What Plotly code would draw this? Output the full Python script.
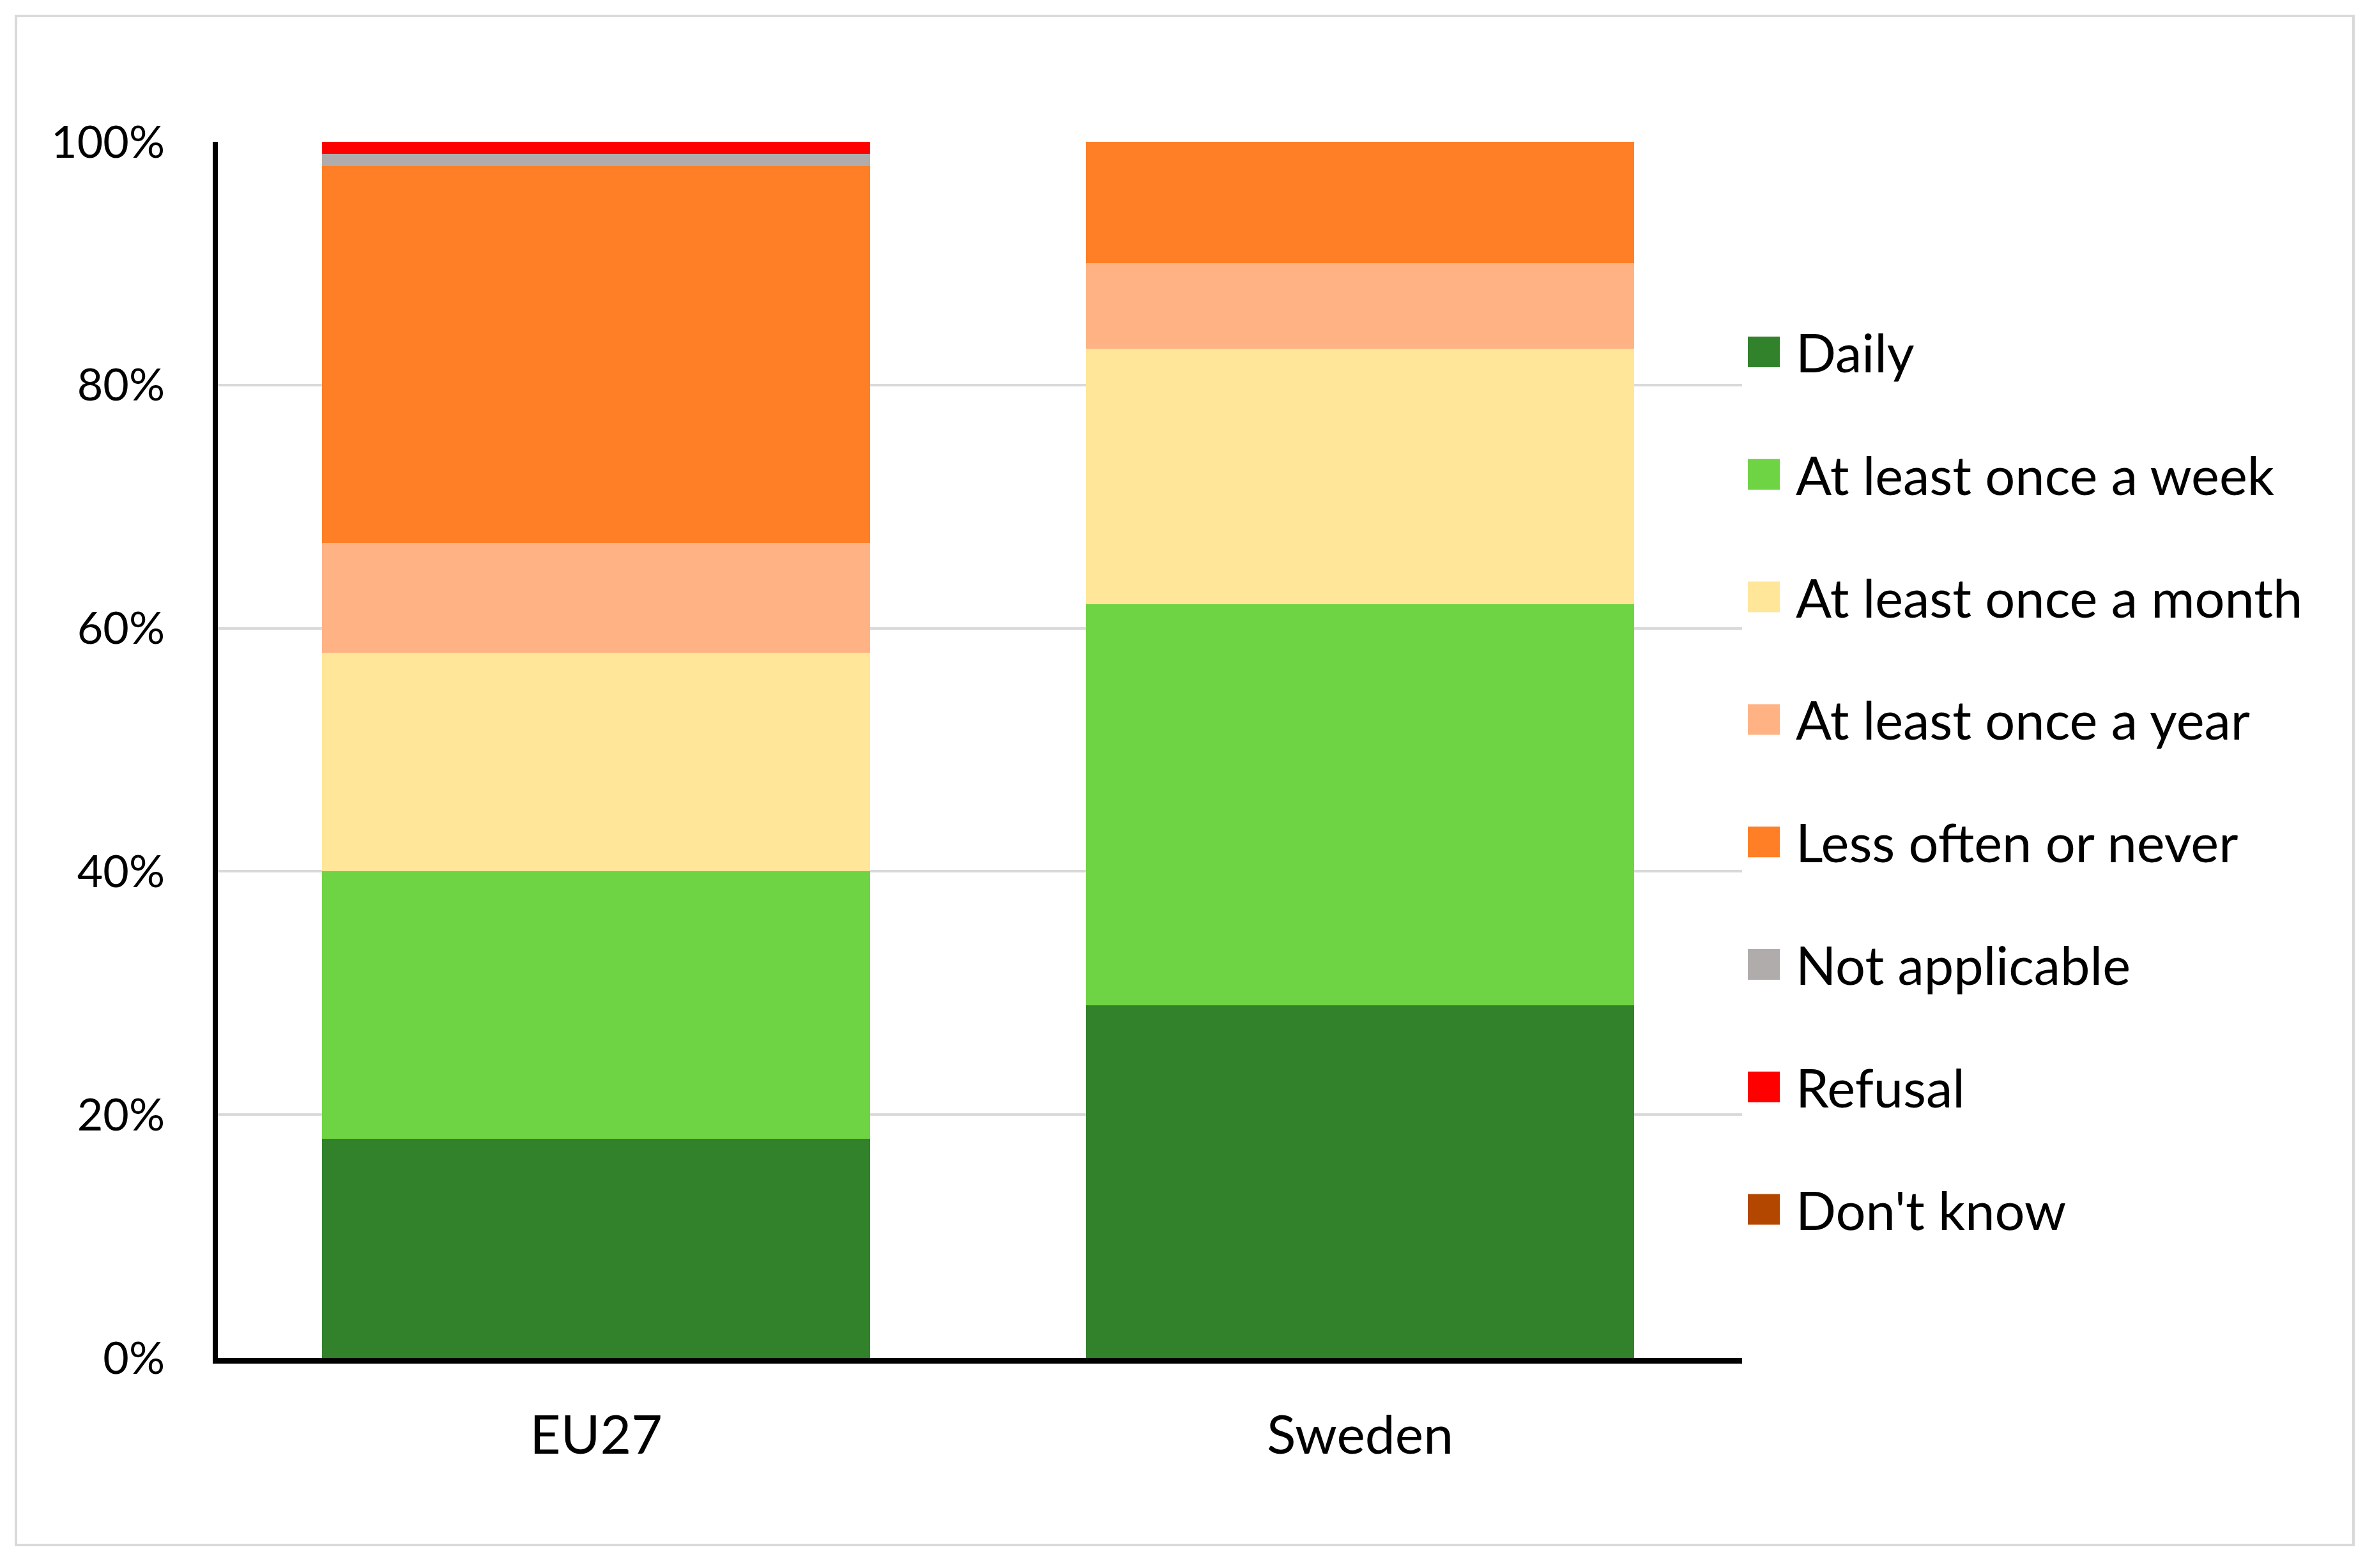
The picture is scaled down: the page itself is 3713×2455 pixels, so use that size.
import plotly.graph_objects as go

# ---- data ----
categories = ["EU27", "Sweden"]
series_names = ["Daily", "At least once a week", "At least once a month",
                "At least once a year", "Less often or never", "Not applicable",
                "Refusal", "Don't know"]
daily = [18, 29]
week = [22, 33]
month = [18, 21]
year = [9, 7]
less_often = [31, 10]
not_applicable = [1, 0]
refusal = [1, 0]
dont_know = [0, 0]
series_values = [daily, week, month, year, less_often, not_applicable, refusal, dont_know]
colors = ["#31822B", "#6FD443", "#FFE699", "#FFB385", "#FF7F27", "#B0ACAB", "#FF0000", "#B34700"]
y_ticks = [0, 20, 40, 60, 80, 100]
y_tick_labels = ["0%", "20%", "40%", "60%", "80%", "100%"]

# ---- layout geometry (pixels) ----
W, H = 3713, 2455
OFF = -9  # compensate page offset
SH = 6    # move y-axis line right while keeping bars in place
L0, R, T, B = 336 + OFF, 2728 + OFF, 223 + OFF, 2127 + OFF
pw0 = R - L0
L = L0 + SH
pw, ph = R - L, B - T

def px(x):
    return (x + OFF - L) / pw

def py(y):
    return (B - (y + OFF)) / ph

FONT = "Lato, Carlito, Calibri, sans-serif"

fig = go.Figure()
for name, vals, col in zip(series_names, series_values, colors):
    fig.add_trace(go.Bar(x=categories, y=vals, name=name, marker_color=col,
                         marker_line_width=0, showlegend=False))

fig.update_layout(
    width=W, height=H,
    barmode="stack", bargap=0.283,
    margin=dict(l=L, r=W - R, t=T, b=H - B, autoexpand=False),
    plot_bgcolor="white", paper_bgcolor="white",
    font=dict(family=FONT, color="black"),
)
fig.update_yaxes(range=[0, 100], tickvals=y_ticks, ticktext=y_tick_labels,
                 showgrid=True, gridcolor="#D9D9D9", gridwidth=4,
                 showline=True, linecolor="black", linewidth=8,
                 zeroline=False, ticks="", ticklabelstandoff=61,
                 tickfont=dict(size=70, family=FONT))
fig.update_xaxes(range=[-0.5 + 2 * SH / pw0, 1.5],
                 showline=True, linecolor="black", linewidth=9,
                 ticks="", ticklabelstandoff=40,
                 tickfont=dict(size=84, family=FONT))

shapes = []
annotations = []
# outer frame
shapes.append(dict(type="rect", xref="paper", yref="paper",
                   x0=px(26), x1=px(3685), y0=py(2420), y1=py(26),
                   line=dict(color="#D9D9D9", width=4), fillcolor="rgba(0,0,0,0)", layer="below"))
# legend
y0c, step = 552, 191.8
for i, (name, col) in enumerate(zip(series_names, colors)):
    yc = y0c + i * step
    shapes.append(dict(type="rect", xref="paper", yref="paper",
                       x0=px(2737), x1=px(2787), y0=py(yc + 24), y1=py(yc - 24),
                       line=dict(width=0), fillcolor=col))
    annotations.append(dict(xref="paper", yref="paper", x=px(2810), y=py(yc),
                            xanchor="left", yanchor="middle", showarrow=False,
                            text=name, font=dict(size=83, family=FONT, color="black")))
fig.update_layout(shapes=shapes, annotations=annotations)

fig.write_html("out.html")
